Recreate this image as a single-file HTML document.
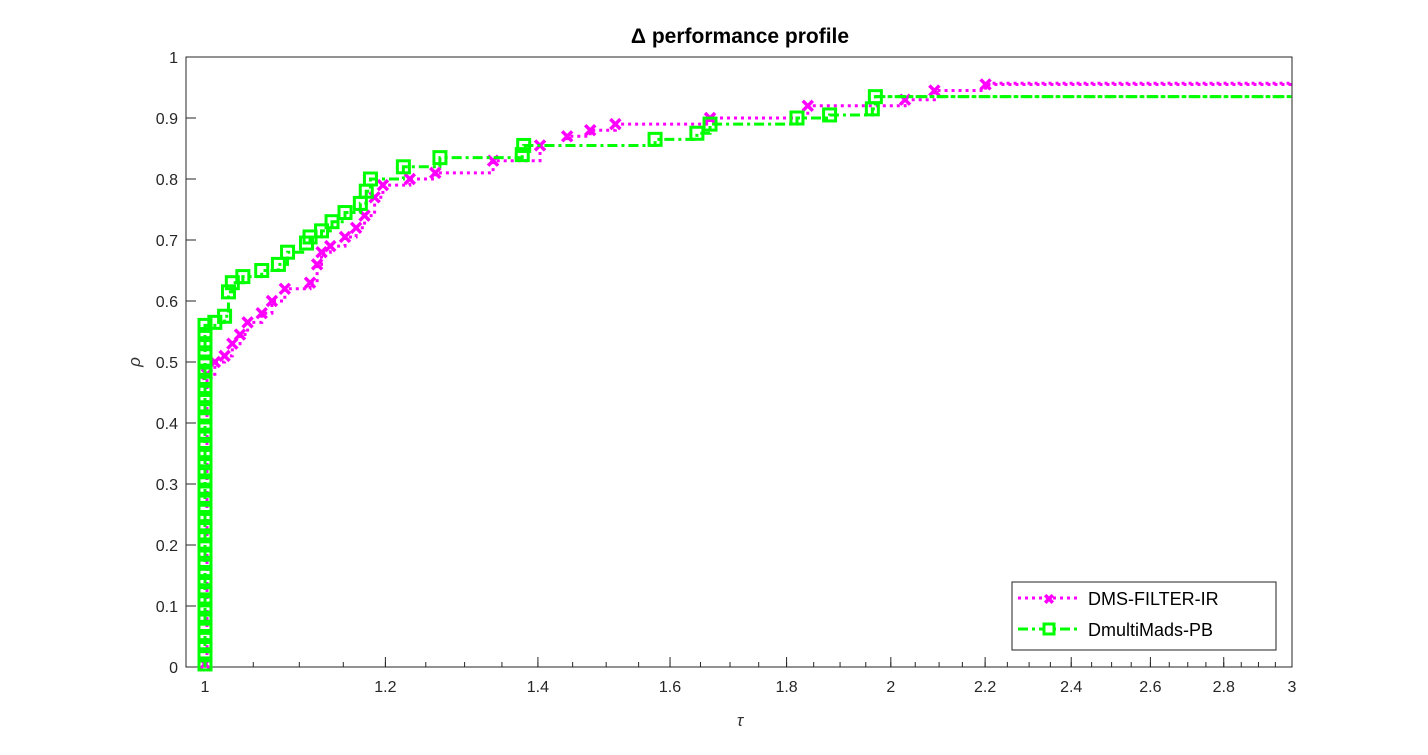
<!DOCTYPE html>
<html><head><meta charset="utf-8"><style>
body{margin:0;background:#fff;}
svg text{font-family:"Liberation Sans",sans-serif;}
</style></head><body>
<svg id="chart" width="1428" height="750" xmlns="http://www.w3.org/2000/svg">
<rect x="0" y="0" width="1428" height="750" fill="#fff"/>
<g id="plot"></g>
<text x="740" y="43" text-anchor="middle" font-size="21" font-weight="bold" fill="#000">Δ performance profile</text>
<text x="740" y="726" text-anchor="middle" font-size="17" font-style="italic" font-family="Liberation Serif" fill="#333">τ</text>
<text x="140" y="362" text-anchor="middle" font-size="17" font-style="italic" font-family="Liberation Serif" fill="#333" transform="rotate(-90 140 362)">ρ</text>
<g>
<rect x="1012" y="582" width="264" height="68" fill="#fff" stroke="#222" stroke-width="1"/>
<g>
<line x1="1018" y1="598" x2="1080" y2="598" stroke="#f0f" stroke-width="3" stroke-dasharray="3,4"/>
<text x="1049" y="604" text-anchor="middle" font-size="14" font-weight="bold" fill="#f0f">✖</text>
<text x="1088" y="605" font-size="18" fill="#000">DMS-FILTER-IR</text>
</g>
<g>
<line x1="1018" y1="629" x2="1080" y2="629" stroke="#0f0" stroke-width="3" stroke-dasharray="10,4,3,4"/>
<rect x="1044" y="624" width="10" height="10" fill="#fff" stroke="#0f0" stroke-width="3"/>
<text x="1088" y="636" font-size="18" fill="#000">DmultiMads-PB</text>
</g>
</g>
</svg>
<script>
const xTicks = [1,1.2,1.4,1.6,1.8,2,2.2,2.4,2.6,2.8,3];
const xTickLabels = ["1","1.2","1.4","1.6","1.8","2","2.2","2.4","2.6","2.8","3"];
const yTicks = [0,0.1,0.2,0.3,0.4,0.5,0.6,0.7,0.8,0.9,1];
const yTickLabels = ["0","0.1","0.2","0.3","0.4","0.5","0.6","0.7","0.8","0.9","1"];
const dmsTau = [1,1.002,1.010,1.020,1.028,1.036,1.044,1.059,1.070,1.084,1.112,1.120,1.125,1.135,1.152,1.165,1.175,1.187,1.197,1.230,1.262,1.338,1.403,1.442,1.476,1.514,1.666,1.839,2.029,2.090,2.201];
const dmsRho = [0.005,0.48,0.50,0.51,0.53,0.545,0.565,0.58,0.60,0.62,0.63,0.66,0.68,0.69,0.705,0.72,0.74,0.77,0.79,0.80,0.81,0.83,0.855,0.87,0.88,0.89,0.90,0.92,0.93,0.945,0.955];
const mmTauAtOne = [1,1,1,1,1,1,1,1,1,1,1,1,1,1,1,1,1,1,1,1,1,1,1,1,1,1,1,1,1,1,1,1,1,1,1,1,1,1];
const mmRhoAtOne = [0.005,0.02,0.035,0.05,0.065,0.08,0.095,0.11,0.125,0.14,0.155,0.17,0.185,0.2,0.215,0.23,0.245,0.26,0.275,0.29,0.305,0.32,0.335,0.35,0.365,0.38,0.395,0.41,0.425,0.44,0.455,0.47,0.485,0.5,0.515,0.53,0.545,0.56];
const mmTauRest = [1.010,1.020,1.024,1.028,1.039,1.059,1.077,1.087,1.108,1.112,1.125,1.137,1.152,1.170,1.177,1.182,1.222,1.268,1.378,1.380,1.576,1.644,1.666,1.819,1.880,1.963,1.969];
const mmRhoRest = [0.565,0.575,0.615,0.63,0.64,0.65,0.66,0.68,0.695,0.705,0.715,0.73,0.745,0.76,0.78,0.80,0.82,0.835,0.84,0.855,0.865,0.875,0.89,0.90,0.905,0.915,0.935];
const mmTau = mmTauAtOne.concat(mmTauRest);
const mmRho = mmRhoAtOne.concat(mmRhoRest);
const dmsFinal = 0.957, mmFinal = 0.935, xMax = 3;

const L=186,R=1292,T=57,B=667, X0=205, K=(1292-205)/Math.log(3);
const xs = t => X0 + Math.log(t)*K;
const ys = r => B - r*(B-T);
const NS='http://www.w3.org/2000/svg';
const g=document.getElementById('plot');
function mk(tag,attrs,parent){const e=document.createElementNS(NS,tag);for(const k in attrs)e.setAttribute(k,attrs[k]);(parent||g).appendChild(e);return e;}

const box=mk('rect',{x:L,y:T,width:R-L,height:B-T,fill:'#fff',stroke:'#262626','stroke-width':1});



const axes=mk('g',{});


for(let t=1.05;t<3;t+=0.05){
  const x=xs(t);
  const m=mk('line',{x1:x,x2:x,y1:B,y2:B-5,stroke:'#262626','stroke-width':1},axes);
  
  
}
xTicks.forEach((t,i)=>{
  const x=xs(t);
  const l=mk('line',{x1:x,x2:x,y1:B,y2:B-10,stroke:'#262626','stroke-width':1},axes);
  
  
  const tx=mk('text',{x:x,y:B+25,'text-anchor':'middle','font-size':16,fill:'#262626'},axes);
  tx.textContent=xTickLabels[i];
  
  
});
yTicks.forEach((r,i)=>{
  const y=ys(r);
  const l=mk('line',{x1:L,x2:L+10,y1:y,y2:y,stroke:'#262626','stroke-width':1},axes);
  
  
  const tx=mk('text',{x:L-8,y:y+6,'text-anchor':'end','font-size':16,fill:'#262626'},axes);
  tx.textContent=yTickLabels[i];
  
  
});

function series(tau,rho,fin,color,dash,marker,name){
  const sg=mk('g',{});
  
  
  let d='M'+xs(tau[0])+','+ys(0);
  for(let i=0;i<tau.length;i++){
    d+=' L'+xs(tau[i])+','+(i?ys(rho[i-1]):ys(0))+' L'+xs(tau[i])+','+ys(rho[i]);
  }
  d+=' L'+xs(xMax)+','+ys(rho[rho.length-1]);
  const p=mk('path',{d:d,fill:'none',stroke:color,'stroke-width':3,'stroke-dasharray':dash},sg);
  
  
  const f=mk('line',{x1:xs(tau[tau.length-1]),x2:xs(xMax),y1:ys(fin),y2:ys(fin),stroke:color,'stroke-width':3,'stroke-dasharray':dash},sg);
  
  
  for(let i=0;i<tau.length;i++){
    const x=xs(tau[i]),y=ys(rho[i]);
    let m;
    if(marker==='x'){
      m=mk('path',{d:`M${x-5},${y-5}L${x+5},${y+5}M${x+5},${y-5}L${x-5},${y+5}`,stroke:color,'stroke-width':3.5,fill:'none'},sg);
    }else{
      m=mk('rect',{x:x-6,y:y-6,width:12,height:12,fill:'none',stroke:color,'stroke-width':3},sg);
    }
    
    
  }
}
series(dmsTau,dmsRho,dmsFinal,'#ff00ff','3,4','x','dms-filter-ir-series');
series(mmTau,mmRho,mmFinal,'#00ff00','10,4,3,4','s','dmultimads-pb-series');
</script>
</body></html>
